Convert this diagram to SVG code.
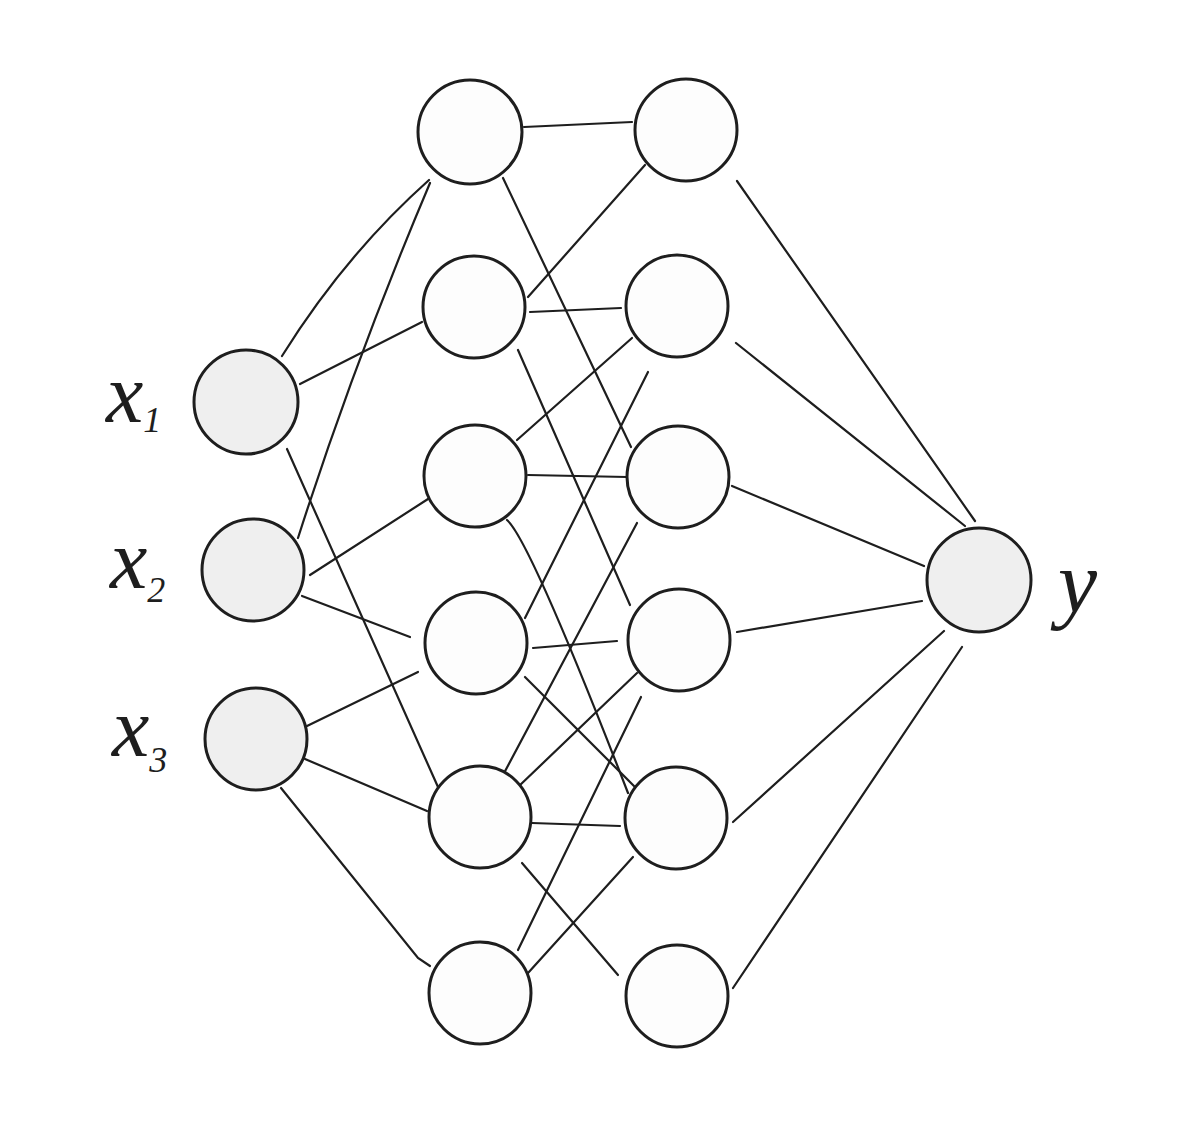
<svg xmlns="http://www.w3.org/2000/svg" width="1200" height="1122" viewBox="0 0 1200 1122">
<style>
.node{fill:#fdfdfd;stroke:#1e1e1e;stroke-width:3}
.io{fill:#efefef;stroke:#1e1e1e;stroke-width:3}
.edge{fill:none;stroke:#1e1e1e;stroke-width:2.2;stroke-linecap:round}
.lbl{font-family:"Liberation Serif",serif;font-style:italic;fill:#1e1e1e}
</style>
<rect width="1200" height="1122" fill="#ffffff"/>
<g id="connectors">
<path class="edge" d="M282,356 Q345,255 429,180"/>
<line class="edge" x1="300" y1="384" x2="422" y2="322"/>
<line class="edge" x1="287" y1="449" x2="438" y2="787"/>
<path class="edge" d="M298,538 Q355,360 430,183"/>
<line class="edge" x1="310" y1="575" x2="428" y2="499"/>
<line class="edge" x1="302" y1="596" x2="410" y2="637"/>
<line class="edge" x1="307" y1="726" x2="418" y2="672"/>
<line class="edge" x1="305" y1="759" x2="427" y2="811"/>
<polyline class="edge" points="281,788 418,958 430,966"/>
<line class="edge" x1="524" y1="127" x2="632" y2="122"/>
<line class="edge" x1="503" y1="178" x2="631" y2="447"/>
<line class="edge" x1="528" y1="297" x2="645" y2="165"/>
<line class="edge" x1="530" y1="312" x2="621" y2="308"/>
<line class="edge" x1="518" y1="350" x2="630" y2="605"/>
<line class="edge" x1="632" y1="338" x2="517" y2="440"/>
<line class="edge" x1="528" y1="475" x2="627" y2="477"/>
<path class="edge" d="M507,520 Q530,540 628,793"/>
<line class="edge" x1="648" y1="372" x2="525" y2="618"/>
<line class="edge" x1="637" y1="523" x2="503" y2="775"/>
<line class="edge" x1="533" y1="648" x2="617" y2="641"/>
<line class="edge" x1="525" y1="677" x2="635" y2="787"/>
<line class="edge" x1="637" y1="673" x2="518" y2="787"/>
<line class="edge" x1="641" y1="697" x2="518" y2="950"/>
<line class="edge" x1="532" y1="823" x2="620" y2="826"/>
<line class="edge" x1="633" y1="857" x2="528" y2="973"/>
<line class="edge" x1="522" y1="863" x2="618" y2="975"/>
<line class="edge" x1="737" y1="181" x2="975" y2="521"/>
<line class="edge" x1="736" y1="343" x2="965" y2="526"/>
<line class="edge" x1="732" y1="486" x2="924" y2="566"/>
<line class="edge" x1="737" y1="632" x2="922" y2="601"/>
<line class="edge" x1="733" y1="822" x2="944" y2="631"/>
<line class="edge" x1="733" y1="988" x2="962" y2="647"/>
</g>
<g id="x1"><circle class="io" cx="246" cy="402" r="52"/><text class="lbl" x="106" y="422" font-size="84">x<tspan font-size="36" dy="10">1</tspan></text></g>
<g id="x2"><circle class="io" cx="253" cy="570" r="51"/><text class="lbl" x="110" y="588" font-size="84">x<tspan font-size="36" dy="14">2</tspan></text></g>
<g id="x3"><circle class="io" cx="256" cy="739" r="51"/><text class="lbl" x="112" y="756" font-size="84">x<tspan font-size="36" dy="16">3</tspan></text></g>
<g id="h1"><circle class="node" cx="470" cy="132" r="52"/></g>
<g id="h2"><circle class="node" cx="474" cy="307" r="51"/></g>
<g id="h3"><circle class="node" cx="475" cy="476" r="51"/></g>
<g id="h4"><circle class="node" cx="476" cy="643" r="51"/></g>
<g id="h5"><circle class="node" cx="480" cy="817" r="51"/></g>
<g id="h6"><circle class="node" cx="480" cy="993" r="51"/></g>
<g id="g1"><circle class="node" cx="686" cy="130" r="51"/></g>
<g id="g2"><circle class="node" cx="677" cy="306" r="51"/></g>
<g id="g3"><circle class="node" cx="678" cy="477" r="51"/></g>
<g id="g4"><circle class="node" cx="679" cy="640" r="51"/></g>
<g id="g5"><circle class="node" cx="676" cy="818" r="51"/></g>
<g id="g6"><circle class="node" cx="677" cy="996" r="51"/></g>
<g id="y"><circle class="io" cx="979" cy="580" r="52"/><text class="lbl" x="1058" y="612" font-size="88">y</text></g>
</svg>
